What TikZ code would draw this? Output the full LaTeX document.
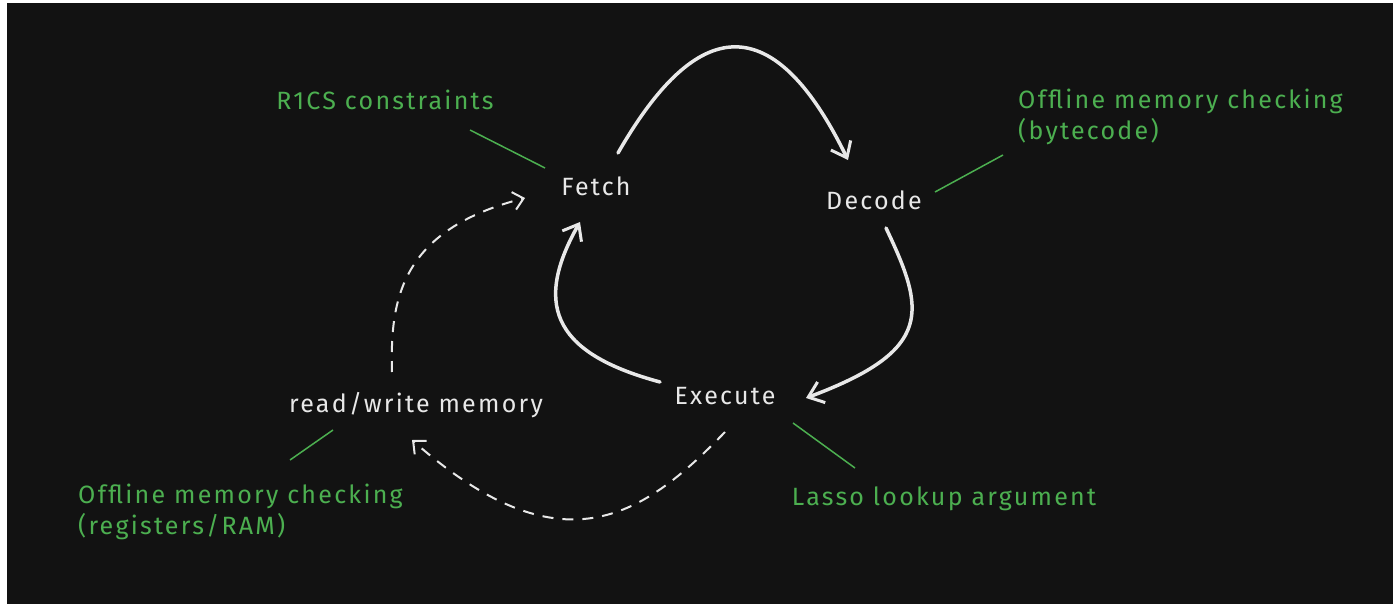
\documentclass[tikz,border=0pt]{standalone}
\usepackage{fontspec}
\setmainfont{Fira Sans}[LetterSpace=9]
\usetikzlibrary{arrows.meta}
\definecolor{bg}{HTML}{121212}
\definecolor{gr}{HTML}{4CAF50}
\definecolor{wh}{HTML}{E8E8E8}
\begin{document}
\begin{tikzpicture}[x=1pt,y=-1pt,
  lab/.style={text=wh,font=\fontsize{25}{28}\selectfont,inner sep=2pt},
  glab/.style={text=gr,font=\fontsize{25}{31}\selectfont,inner sep=0pt,align=left},
  main/.style={draw=wh,line width=3.5pt,line cap=round,-{Straight Barb[length=14pt,width=22pt,line width=3pt]}},
  dsh/.style={draw=wh,line width=2pt,dash pattern=on 11pt off 9pt,-{Straight Barb[length=10pt,width=18pt,line width=2pt]}},
  gl/.style={draw=gr,line width=1.5pt}]
\useasboundingbox (0,0) rectangle (1400,607);
\fill[white] (0,0) rectangle (1400,607);
\fill[bg] (7,3) rectangle (1393,604);
\node[lab] (fetch) at (596,186) {Fetch};
\node[lab] (decode) at (874,200) {Decode};
\node[lab] (exec) at (725,396) {Execute};
\node[lab] (rw) at (416,405) {read/write memory};
\node[glab] (r1) at (385,100) {R1CS constraints};
\node[glab,anchor=west] (ob) at (1018,117) {Offline memory checking\\(bytecode)};
\node[glab,anchor=west] (orr) at (78,512) {Offline memory checking\\(registers/RAM)};
\node[glab] (lasso) at (944,499) {Lasso lookup argument};
\coordinate (a1) at (618,153); \coordinate (a2) at (848,160);
\draw[main] (a1) .. controls (680,45) and (760,-20) .. (a2);
\coordinate (b1) at (886,228); \coordinate (b2) at (806,398);
\draw[main] (b1) .. controls (925,310) and (935,350) .. (b2);
\coordinate (c1) at (660,382); \coordinate (c2) at (580,222);
\draw[main] (c1) .. controls (560,355) and (530,310) .. (c2);
\coordinate (d1) at (392,372); \coordinate (d2) at (525,198);
\draw[dsh] (d1) .. controls (390,300) and (400,230) .. (d2);
\coordinate (e1) at (725,432); \coordinate (e2) at (412,440);
\draw[dsh] (e1) .. controls (640,520) and (560,570) .. (e2);
\coordinate (g1) at (470,130); \coordinate (g2) at (545,168);
\draw[gl] (g1) -- (g2);
\coordinate (h1) at (935,192); \coordinate (h2) at (1003,155);
\draw[gl] (h1) -- (h2);
\coordinate (i1) at (290,460); \coordinate (i2) at (333,430);
\draw[gl] (i1) -- (i2);
\coordinate (j1) at (793,423); \coordinate (j2) at (855,468);
\draw[gl] (j1) -- (j2);
\end{tikzpicture}
\end{document}
